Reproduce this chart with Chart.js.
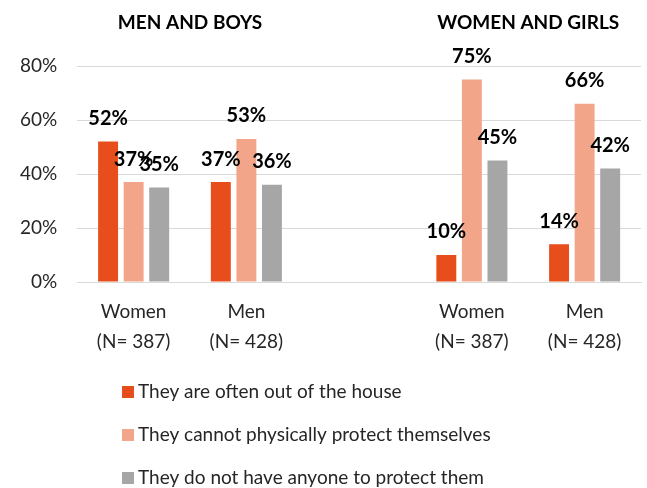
<!DOCTYPE html>
<html lang="en">
<head>
  <meta charset="UTF-8">
  <title>Reasons for vulnerability</title>
  <script src="https://cdn.jsdelivr.net/npm/chart.js"></script>
  <style>
    body {
      margin: 0;
      background: #fff;
    }
    .wrap {
      width: 647px;
      height: 488px;
      position: relative;
    }
  </style>
</head>
<body>
  <div class="wrap">
    <canvas id="chart"></canvas>
  </div>

  <script>
    // categories (empty slot in the middle separates the two panels)
    const categories = [['Women', '(N= 387)'], ['Men', '(N= 428)'], '', ['Women', '(N= 387)'], ['Men', '(N= 428)']];
    const panelTitles = ['MEN AND BOYS', 'WOMEN AND GIRLS'];
    const seriesNames = [
      'They are often out of the house',
      'They cannot physically protect themselves',
      'They do not have anyone to protect them'
    ];
    const outOfHouse = [52, 37, null, 10, 14];
    const cannotProtect = [37, 53, null, 75, 66];
    const noOneToProtect = [35, 36, null, 45, 42];
    const yTicks = [0, 20, 40, 60, 80];

    const colors = ['#e84e1b', '#f2a588', '#a6a6a6'];
    const FONT = 'Lato, "Open Sans", sans-serif';

    // value labels above each bar
    const valueLabels = {
      id: 'valueLabels',
      afterDatasetsDraw(chart) {
        const ctx = chart.ctx;
        ctx.save();
        ctx.font = 'bold 20px ' + FONT;
        ctx.fillStyle = '#000';
        ctx.textAlign = 'center';
        ctx.textBaseline = 'middle';
        chart.data.datasets.forEach((ds, i) => {
          chart.getDatasetMeta(i).data.forEach((bar, j) => {
            const v = ds.data[j];
            if (v == null) return;
            ctx.fillText(v + '%', bar.x, bar.y - 23);
          });
        });
        ctx.restore();
      }
    };

    // panel titles above the two groups
    const panelHeads = {
      id: 'panelHeads',
      afterDraw(chart) {
        const ctx = chart.ctx;
        const x = chart.scales.x;
        ctx.save();
        ctx.font = 'bold 19px ' + FONT;
        ctx.fillStyle = '#000';
        ctx.textAlign = 'center';
        ctx.textBaseline = 'middle';
        ctx.fillText(panelTitles[0], (x.getPixelForValue(0) + x.getPixelForValue(1)) / 2, 23);
        ctx.fillText(panelTitles[1], (x.getPixelForValue(3) + x.getPixelForValue(4)) / 2, 23);
        ctx.restore();
      }
    };

    // vertical legend, left aligned
    const sideLegend = {
      id: 'sideLegend',
      afterDraw(chart) {
        const ctx = chart.ctx;
        ctx.save();
        ctx.font = '19px ' + FONT;
        ctx.textBaseline = 'middle';
        chart.data.datasets.forEach((ds, i) => {
          const y = 392 + i * 43;
          ctx.fillStyle = ds.backgroundColor;
          ctx.fillRect(122, y - 6, 12, 12);
          ctx.fillStyle = '#262626';
          ctx.fillText(ds.label, 138, y);
        });
        ctx.restore();
      }
    };

    const datasets = [outOfHouse, cannotProtect, noOneToProtect].map((d, i) => ({
      label: seriesNames[i],
      data: d,
      backgroundColor: colors[i],
      categoryPercentage: 0.68,
      barPercentage: 0.78
    }));

    new Chart(document.getElementById('chart'), {
      type: 'bar',
      data: { labels: categories, datasets: datasets },
      options: {
        responsive: true,
        maintainAspectRatio: false,
        animation: false,
        layout: { padding: { top: 66, right: 6, bottom: 124, left: 0 } },
        plugins: {
          legend: { display: false },
          tooltip: { enabled: false }
        },
        scales: {
          x: {
            grid: { display: false },
            border: { color: '#d9d9d9' },
            ticks: {
              color: '#262626',
              padding: 7,
              font: { family: FONT, size: 19, lineHeight: '30px' },
              maxRotation: 0
            }
          },
          y: {
            min: 0,
            max: 80,
            afterBuildTicks(axis) {
              axis.ticks = yTicks.map(v => ({ value: v }));
            },
            grid: { color: '#d9d9d9', drawTicks: false },
            border: { display: false },
            ticks: {
              color: '#262626',
              padding: 20,
              font: { family: FONT, size: 19 },
              callback: v => v + '%'
            }
          }
        }
      },
      plugins: [valueLabels, panelHeads, sideLegend]
    });
  </script>
</body>
</html>
